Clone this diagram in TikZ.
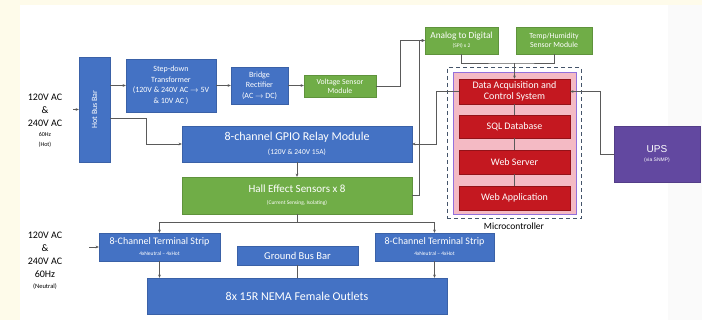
\documentclass[tikz,border=0pt]{standalone}
\usepackage{fontspec}
\setmainfont{Carlito}
\newfontfamily\upsfont{Liberation Sans}
\usepackage{tikz}
\usetikzlibrary{
	arrows.meta,
	positioning
}
\definecolor{main}{RGB}{68,114,196}
\definecolor{second}{RGB}{112,173,71}
\definecolor{third}{RGB}{196,24,32}
\definecolor{fourth}{RGB}{244,186,196}
\definecolor{fifth}{RGB}{98,72,160}
\definecolor{frame}{RGB}{68,84,106}
\definecolor{wire}{RGB}{90,90,90}
\definecolor{cream}{RGB}{254,251,234}
\newcommand{\fsz}[2]{\fontsize{#1}{#2}\selectfont}
\tikzset{
  % arrow
	cstline/.style    ={draw=wire, line width=0.6pt},
	cstra/.style      ={cstline, -{Stealth[length=3.2pt,width=2.8pt]}}, % right arrow
  % node
	cstnode1/.style   ={fill=main,draw=main!85!black,text=white,line width=0.4pt,inner sep=0pt,align=center},
	cstnode2/.style   ={fill=second,draw=second!85!black,text=white,line width=0.4pt,inner sep=0pt,align=center},
	cstnode3/.style   ={fill=third,draw=third!75!black,text=white,line width=0.5pt,inner sep=0pt,align=center},
	cstnode5/.style   ={fill=fifth,draw=fifth!85!black,text=white,line width=0.4pt,inner sep=0pt,align=center},
	cstcore/.style    ={fill=fourth,draw=fourth!60!blue,line width=0.5pt},
	cstmicro/.style   ={draw=frame,line width=1pt,dash pattern=on 4pt off 3pt},
	cstlabel/.style   ={align=center,text=black,inner sep=0pt}
}

\begin{document}
\begin{tikzpicture}[x=1pt,y=-1pt]
	\useasboundingbox (0,0) rectangle (702,320);
	\fill[cream] (0,0) rectangle (702,320);
	\fill[white] (20,5) rectangle (668,320);
	\fill[black!2] (668,5) rectangle (702,320);
	% microcontroller
	\node[cstmicro, minimum width=134pt, minimum height=151pt] (micro) at (514,143.5) {};
	\node[cstlabel, below=3pt of micro, font=\fsz{9.5}{11}] (microlbl) {Microcontroller};
	\node[cstcore, minimum width=123pt, minimum height=142pt] (core) at (514.5,143) {};
	\node[cstnode3, minimum width=111pt, minimum height=25pt, font=\fsz{10}{11.5}] (daq) at (514.5,91.5) {Data Acquisition and\\Control System};
	\node[cstnode3, minimum width=111pt, minimum height=23pt, font=\fsz{10}{12}] (sql) at (514.5,126.5) {SQL Database};
	\node[cstnode3, minimum width=111pt, minimum height=24pt, font=\fsz{10}{12}] (websrv) at (514.5,162) {Web Server};
	\node[cstnode3, minimum width=111pt, minimum height=24pt, font=\fsz{10}{12}] (webapp) at (514.5,198) {Web Application};
	% hot side
	\node[cstlabel, font=\fsz{10}{13}] (hotlbl) at (45,121) {120V AC\\\&\\240V AC\\[-3pt]{\fsz{6}{8}60Hz}\\[-3pt]{\fsz{6}{8}(Hot)}};
	\node[cstnode1, minimum width=31pt, minimum height=105pt, font=\fsz{8}{9}] (hotbus) at (94.5,109.5) {\rotatebox{90}{Hot Bus Bar}};
	\node[cstnode1, minimum width=90pt, minimum height=53pt, font=\fsz{8}{10.5}] (trans) at (171,85.5) {Step-down\\Transformer\\(120V \& 240V AC $\rightarrow$ 5V\\\& 10V AC )};
	\node[cstnode1, minimum width=57pt, minimum height=37pt, font=\fsz{8}{10.5}] (bridge) at (259.5,85.5) {Bridge\\Rectifier\\(AC $\rightarrow$ DC)};
	\node[cstnode2, minimum width=72pt, minimum height=22pt, font=\fsz{7.8}{9}] (vsens) at (340,86) {Voltage Sensor\\Module};
	\node[cstnode2, minimum width=73pt, minimum height=27pt, font=\fsz{9.3}{10}] (adc) at (461.5,40.5) {Analog to Digital\\[-1pt]{\fsz{5.5}{6.5}(SPI) x 2}};
	\node[cstnode2, minimum width=76pt, minimum height=27pt, font=\fsz{7.8}{9.5}] (temp) at (554,40.5) {Temp/Humidity\\Sensor Module};
	\node[cstnode1, minimum width=230pt, minimum height=36pt, font=\fsz{12}{13}] (gpio) at (297,144) {8-channel GPIO Relay Module\\[1pt]{\fsz{7.5}{9}(120V \& 240V 15A)}};
	\node[cstnode2, minimum width=230pt, minimum height=37pt, font=\fsz{11}{12}] (hall) at (297,195.5) {Hall Effect Sensors x 8\\[0pt]{\fsz{5.5}{7}(Current Sensing, Isolating)}};
	\node[cstnode5, minimum width=86pt, minimum height=56pt, font=\upsfont\fsz{10}{11}] (ups) at (657,154) {UPS\\[-2pt]{\fsz{5}{6}(via SNMP)}};
	% neutral side
	\node[cstlabel, font=\fsz{10}{13}] (neulbl) at (45,261) {120V AC\\\&\\240V AC\\60Hz\\[-2pt]{\fsz{6.5}{8}(Neutral)}};
	\node[cstnode1, minimum width=121pt, minimum height=28pt, font=\fsz{10}{11}] (tsl) at (159.5,247) {8-Channel Terminal Strip\\[0pt]{\fsz{5.5}{6.5}4xNeutral -- 4xHot}};
	\node[cstnode1, minimum width=121pt, minimum height=19pt, font=\fsz{10.5}{11}] (gbus) at (297.5,255.5) {Ground Bus Bar};
	\node[cstnode1, minimum width=119pt, minimum height=28pt, font=\fsz{10}{11}] (tsr) at (434.5,247) {8-Channel Terminal Strip\\[0pt]{\fsz{5.5}{6.5}4xNeutral -- 4xHot}};
	\node[cstnode1, minimum width=300pt, minimum height=36pt, font=\fsz{12}{13}] (outlets) at (297,296) {8x 15R NEMA Female Outlets};
	% connectors
	\coordinate (hotin) at (73,109.5);
	\coordinate (neuin) at (89,247);
	\coordinate (merge) at (514.5,63);
	\coordinate (split) at (297,222);
	\draw[cstra] (hotin) -- (hotbus.west);
	\draw[cstra] (hotbus.east |- trans.west) -- (trans.west);
	\draw[cstra] (trans.east) -- (bridge.west);
	\draw[cstra] (bridge.east) -- (vsens.west |- bridge.east);
	\draw[cstra] (vsens.east) -- ++(24,0) |- (adc.west);
	\draw[cstra] ([yshift=-8.5pt]hotbus.east) -- ++(36,0) |- (gpio.west);
	\draw[cstra] (gpio.south) -- (hall.north);
	\draw[cstra] (daq.west) -- ++(-22,0) |- (gpio.east);
	\draw[cstra] (hall.east) -- ++(7,0) |- (adc.west);
	\draw[cstline] (adc.south) |- (merge) -| (temp.south);
	\draw[cstra] (merge) -- (daq.north);
	\draw[cstra] (ups.west) -- ++(-14,0) |- (daq.east);
	\draw[cstline] (daq.south) -- (sql.north);
	\draw[cstline] (sql.south) -- (websrv.north);
	\draw[cstline] (websrv.south) -- (webapp.north);
	\draw[cstline] (hall.south) -- (split);
	\draw[cstra] (split) -| (tsl.north);
	\draw[cstra] (split) -| (tsr.north);
	\draw[cstra] (neuin) -- (tsl.west);
	\draw[cstra] (tsl.south) -- (tsl.south |- outlets.north);
	\draw[cstra] (tsr.south) -- (tsr.south |- outlets.north);
	\draw[cstline] (gbus.south) -- (gbus.south |- outlets.north);
\end{tikzpicture}
\end{document}
